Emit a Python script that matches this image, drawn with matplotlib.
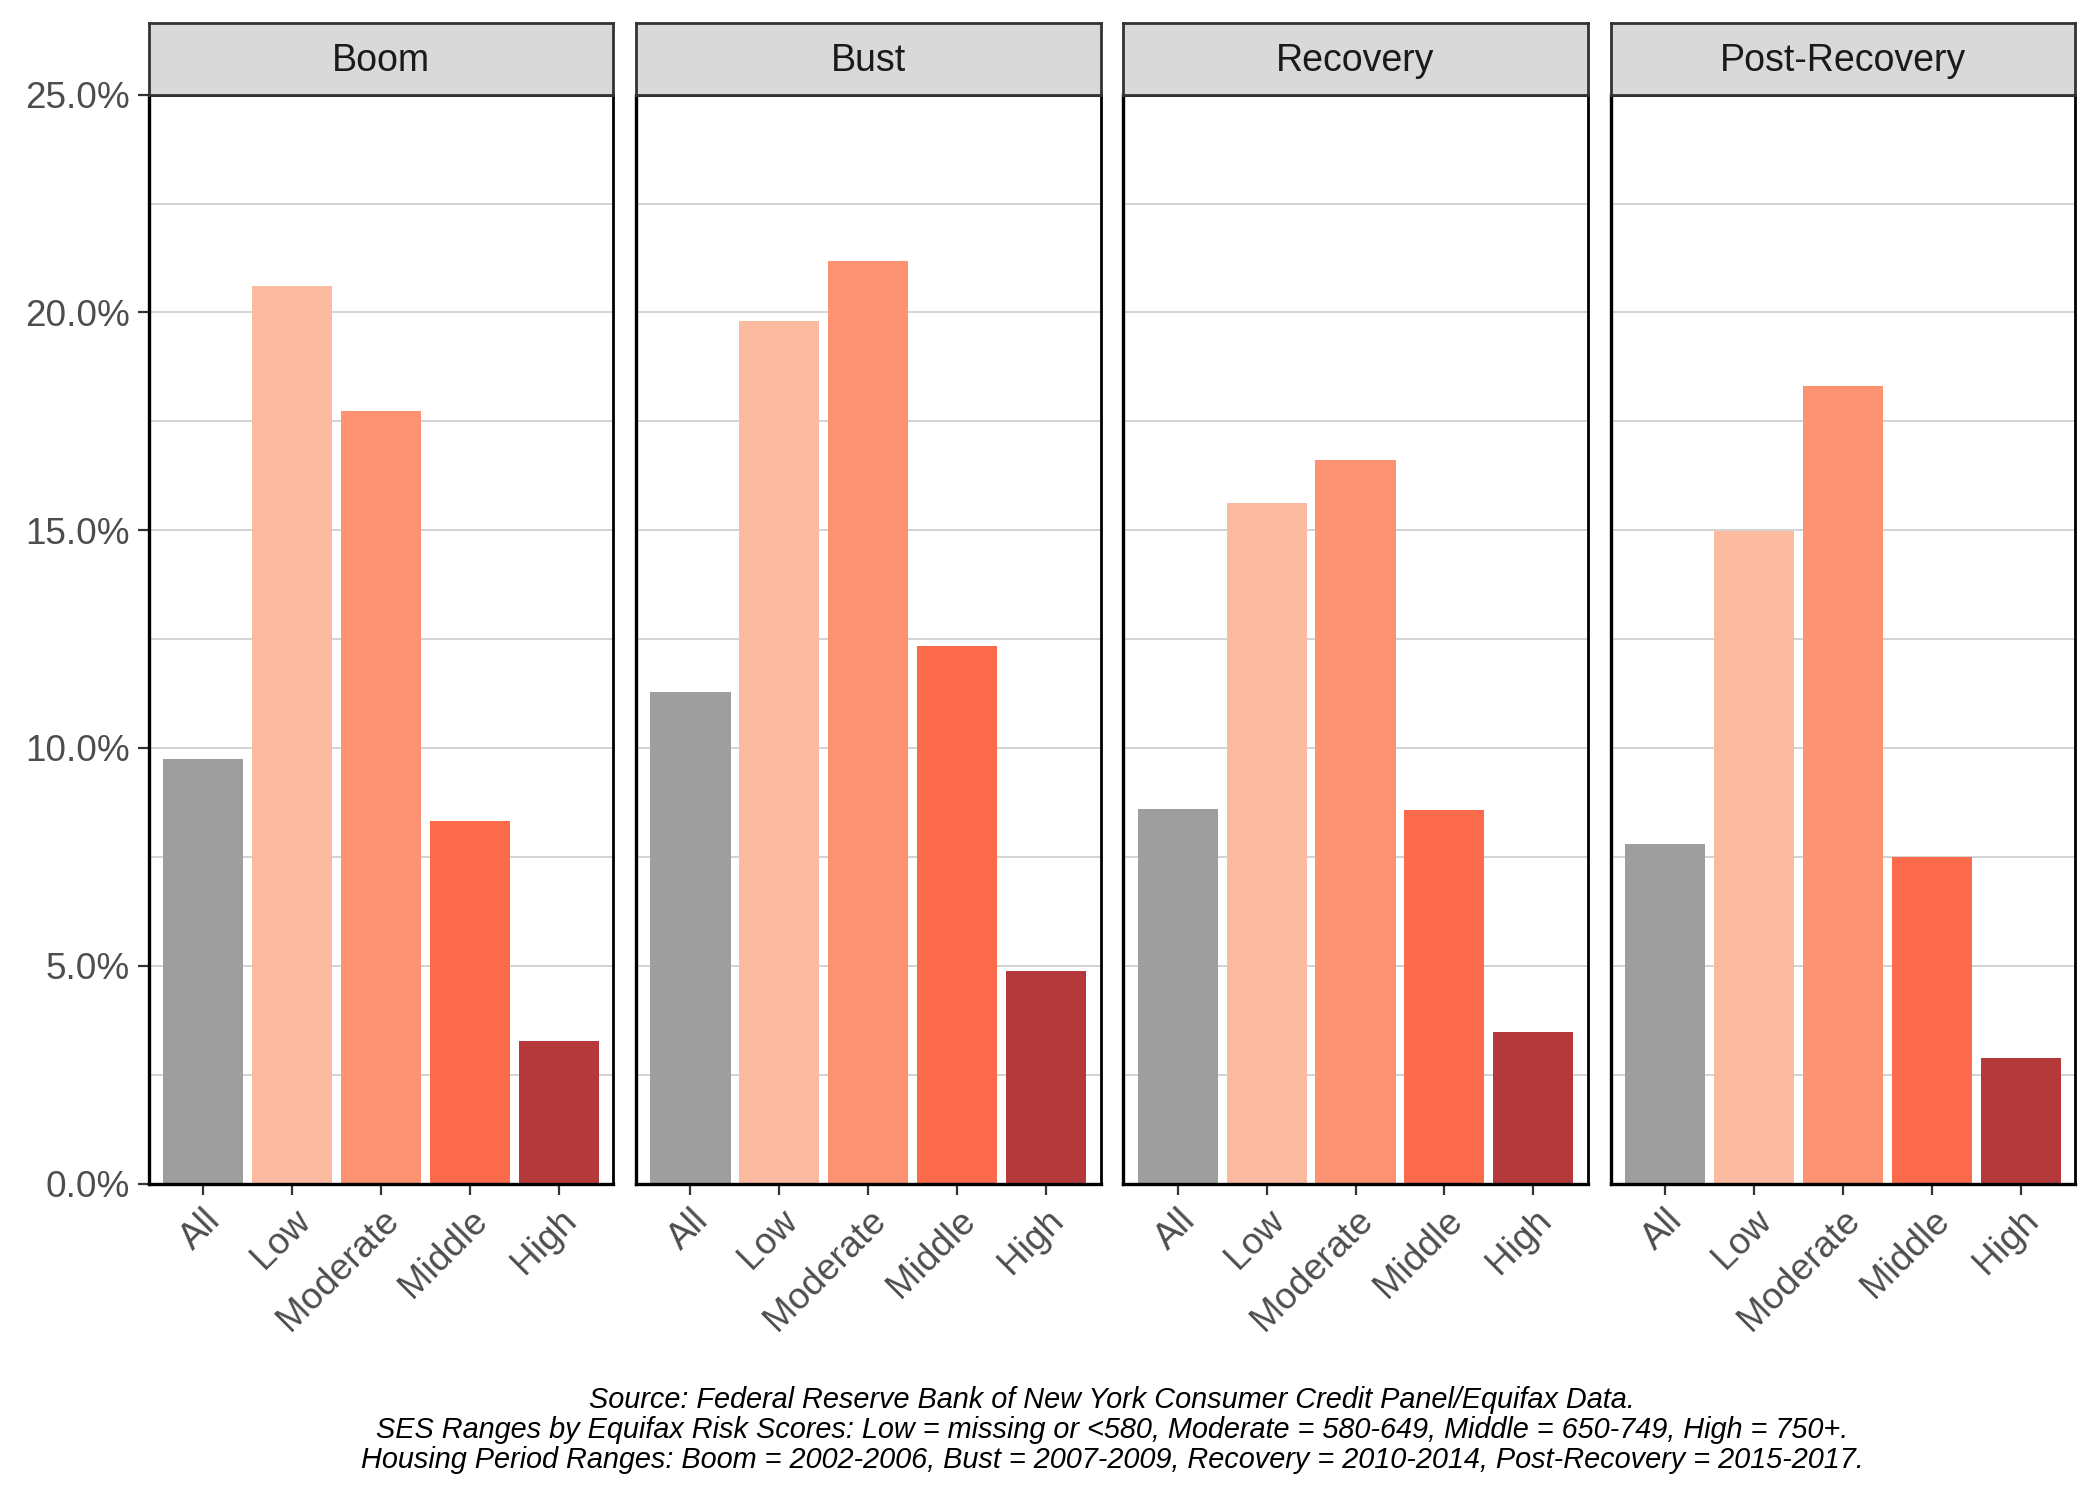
import numpy as np
import matplotlib
matplotlib.use("Agg")
import matplotlib.pyplot as plt

plt.rcParams['font.family'] = ['Liberation Sans', 'DejaVu Sans']

periods = ['Boom', 'Bust', 'Recovery', 'Post-Recovery']
groups = ['All', 'Low', 'Moderate', 'Middle', 'High']
boom = [9.75, 20.6, 17.73, 8.32, 3.28]
bust = [11.29, 19.8, 21.19, 12.35, 4.89]
recovery = [8.6, 15.63, 16.61, 8.57, 3.47]
post_recovery = [7.8, 14.98, 18.32, 7.49, 2.88]
values = [boom, bust, recovery, post_recovery]
colors = ['#9e9e9e', '#fcbba1', '#fc9272', '#fb6a4a', '#b5393a']

caption = ("Source: Federal Reserve Bank of New York Consumer Credit Panel/Equifax Data.\n"
           "SES Ranges by Equifax Risk Scores: Low = missing or <580, Moderate = 580-649, "
           "Middle = 650-749, High = 750+.\n"
           "Housing Period Ranges: Boom = 2002-2006, Bust = 2007-2009, "
           "Recovery = 2010-2014, Post-Recovery = 2015-2017.")

fig = plt.figure(figsize=(10.5, 7.5), dpi=200)

left, right = 0.0710, 0.9880
bottom, top = 0.2110, 0.9369
strip_h = 0.0477
gap = 17 / 1563
w = (right - left - 3 * gap) / 4

x = np.arange(len(groups))
for i, (name, vals) in enumerate(zip(periods, values)):
    x0 = left + i * (w + gap)
    ax = fig.add_axes([x0, bottom, w, top - bottom])
    ax.bar(x, vals, width=0.9, color=colors, zorder=2)
    ax.set_xlim(-0.61, len(groups) - 1 + 0.61)
    ax.set_ylim(0, 25)
    ax.set_yticks(np.arange(0, 25.1, 5))
    ax.set_yticks(np.arange(2.5, 25, 5), minor=True)
    ax.grid(True, axis='y', which='both', color='#c8c8c8', linewidth=0.55, zorder=0)
    ax.set_axisbelow(True)
    ax.set_xticks(x)
    ax.set_xticklabels(groups, rotation=45, ha='right', va='top',
                       rotation_mode='anchor', fontsize=13.3, color='#4d4d4d')
    ax.tick_params(axis='x', length=4, width=0.8, color='#333333', pad=3)
    ax.tick_params(axis='y', which='minor', length=0)
    if i == 0:
        ax.set_yticklabels([f'{v:.1f}%' for v in np.arange(0, 25.1, 5)],
                           fontsize=13.3, color='#4d4d4d')
        ax.tick_params(axis='y', which='major', length=4, width=0.8,
                       color='#333333', pad=3)
    else:
        ax.tick_params(axis='y', which='major', length=0, labelleft=False)
    for s in ax.spines.values():
        s.set_color('black')
        s.set_linewidth(1.0)
    ax.spines['left'].set_linewidth(1.2)
    ax.spines['bottom'].set_linewidth(1.2)

    # facet strip
    sax = fig.add_axes([x0, top, w, strip_h])
    sax.set_xticks([])
    sax.set_yticks([])
    sax.set_facecolor('#d9d9d9')
    for s in sax.spines.values():
        s.set_color('#333333')
        s.set_linewidth(1.0)
    sax.text(0.5, 0.47, name, ha='center', va='center', fontsize=13.5,
             color='#1a1a1a', transform=sax.transAxes)

fig.text((left + right) / 2, 0.017, caption, ha='center', va='bottom',
         fontsize=10.4, style='italic', color='black', linespacing=1.1)

fig.savefig('out.png', dpi=200)
